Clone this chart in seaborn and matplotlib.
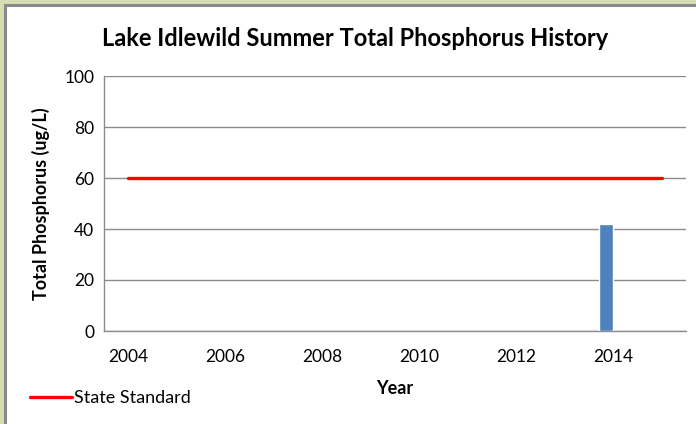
import numpy as np
import pandas as pd
import seaborn as sns
import matplotlib.pyplot as plt
from matplotlib.patches import Rectangle

years = ['2004', '2005', '2006', '2007', '2008', '2009', '2010', '2011', '2012', '2013', '2014', '2015']
phosphorus = [np.nan] * 10 + [42, np.nan]   # summer total phosphorus (ug/L)
state_standard = [60] * 12                  # state standard (ug/L)
tick_years = years[::2]

sns.set_style('white')
plt.rcParams['font.family'] = ['Lato', 'DejaVu Sans']
plt.rcParams['text.color'] = 'black'
plt.rcParams['axes.labelcolor'] = 'black'
plt.rcParams['xtick.color'] = 'black'
plt.rcParams['ytick.color'] = 'black'

fig = plt.figure(figsize=(6.96, 4.24), dpi=100, facecolor='#d5deb0')
# white chart area with grey frame on the left/top
fig.patches.append(Rectangle((5 / 696, -0.01), 1.0, (424 - 5) / 424 + 0.01, transform=fig.transFigure,
                             facecolor='white', edgecolor='#8a8a8a', lw=2.2, zorder=-5))

ax = fig.add_axes([104 / 696, 93 / 424, 582 / 696, 255 / 424])
ax.set_zorder(2)
ax.set_facecolor('none')

df = pd.DataFrame({'Year': years + years,
                   'TP': phosphorus + [np.nan] * 12,
                   'Series': ['Total Phosphorus'] * 12 + ['other'] * 12})

sns.barplot(data=df, x='Year', y='TP', hue='Series', hue_order=['Total Phosphorus', 'other'],
            order=years, palette=['#4f81bd', '#c0504d'], width=0.58, ax=ax, legend=False,
            saturation=1, errorbar=None, zorder=3)

sns.lineplot(x=np.arange(len(years)), y=state_standard, color='#ff0000', lw=2.4, ax=ax,
             label='State Standard', legend=False, zorder=4)

ax.set_xlim(-0.5, len(years) - 0.5)
ax.set_ylim(0, 100)
ax.set_yticks(range(0, 101, 20))
ax.yaxis.grid(True, color='#8c8c8c', lw=1)
ax.set_axisbelow(True)

ax.set_xticks([years.index(y) for y in tick_years])
ax.set_xticklabels(tick_years)
ax.set_xticks(np.arange(-0.5, len(years), 1), minor=True)
ax.tick_params(axis='x', which='major', length=0, pad=13, labelsize=12.5)
ax.tick_params(axis='x', which='minor', length=5, width=1, direction='out')
ax.tick_params(axis='y', length=5, width=1, direction='out', labelsize=12.5, pad=2)
ax.tick_params(axis='both', which='both', color='#8c8c8c', labelcolor='black')

for s in ['top', 'right']:
    ax.spines[s].set_visible(False)
for s in ['left', 'bottom']:
    ax.spines[s].set_color('#8c8c8c')
    ax.spines[s].set_linewidth(1)

ax.set_xlabel('Year', fontsize=13, fontweight='bold', labelpad=11)
ax.set_ylabel('Total Phosphorus (ug/L)', fontsize=13, fontweight='bold', labelpad=10)
fig.text(355 / 696, 1 - 38 / 424, 'Lake Idlewild Summer Total Phosphorus History',
         ha='center', va='center', fontsize=17, fontweight='bold')

handles, labels = ax.get_legend_handles_labels()
fig.legend(handles, labels, loc='center left', bbox_to_anchor=(14 / 696, 1 - 398 / 424),
           frameon=False, fontsize=13, handlelength=2.3, handletextpad=0.1)

fig.savefig('out.png', dpi=100, facecolor=fig.get_facecolor())
